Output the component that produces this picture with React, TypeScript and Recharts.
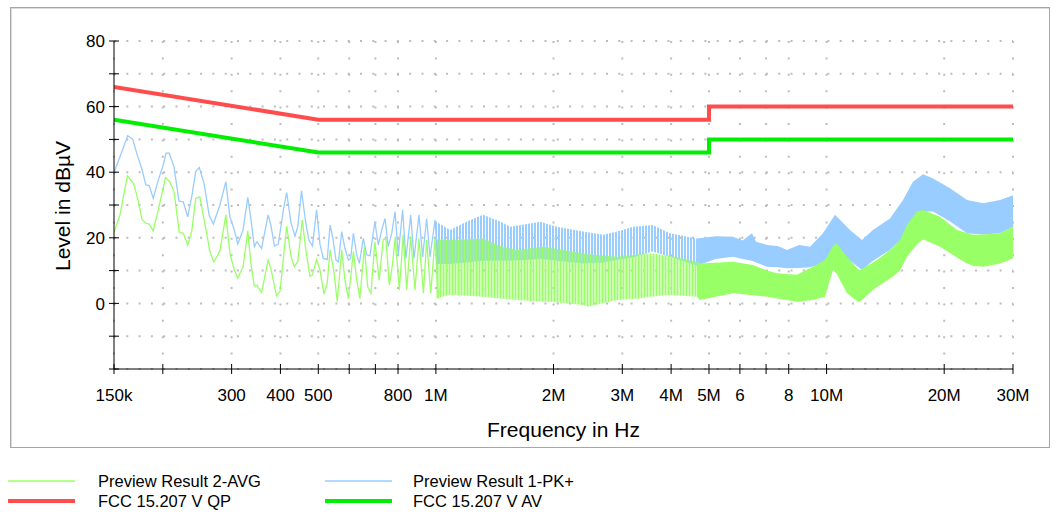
import React from 'react';
import { ComposedChart, Line, Area, XAxis, YAxis, CartesianGrid, Label } from 'recharts';

// ---------- axis ticks ----------
const xTicks = [150e3, 200e3, 300e3, 400e3, 500e3, 600e3, 700e3, 800e3, 1e6, 2e6, 3e6, 4e6, 5e6, 6e6, 7e6, 8e6, 10e6, 20e6, 30e6];
const xTickLabels: [number, string][] = [
  [150e3, '150k'], [300e3, '300'], [400e3, '400'], [500e3, '500'], [800e3, '800'], [1e6, '1M'],
  [2e6, '2M'], [3e6, '3M'], [4e6, '4M'], [5e6, '5M'], [6e6, '6'], [8e6, '8'], [10e6, '10M'], [20e6, '20M'], [30e6, '30M'],
];
const yTicks = [-20, -10, 0, 10, 20, 30, 40, 50, 60, 70, 80];
const yTickLabels = [0, 20, 40, 60, 80];

// ---------- limit lines (Hz, dBµV) ----------
const qpLimit: [number, number][] = [[150e3, 66], [500e3, 56], [5e6, 56], [5e6, 60], [30e6, 60]];
const avLimit: [number, number][] = [[150e3, 56], [500e3, 46], [5e6, 46], [5e6, 50], [30e6, 50]];

// ---------- low-frequency traces (kHz, dBµV) ----------
const pkTrace: [number, number][] = [
  [150, 40], [155.4, 44.7], [162.6, 51.1], [167.5, 50.1], [172, 45.2], [176.6, 41.2], [181, 36.1], [184.6, 35.9],
  [189, 32], [194.7, 37.6], [200.5, 42.2], [203.8, 45.8], [207.7, 45.8], [213.6, 41.7], [220, 31.2], [225.6, 31],
  [231.6, 26.4], [237.1, 32.5], [242.8, 40.2], [248, 41.4], [255, 36.6], [263, 26.7], [269.4, 24.2], [280, 30],
  [290, 37.1], [297, 26.4], [304.8, 22.4], [311, 18.1], [321, 22.4], [330, 32.3], [336, 25.9], [343, 17.3],
  [348, 18.8], [358, 16.8], [372, 27], [378, 23.9], [386, 17.5], [395, 18.1], [407, 28.5], [415, 33.8],
  [426, 24.4], [436, 20.5], [443, 23.4], [453, 34.3], [464, 24.9], [473, 19.3], [483, 17.5], [495, 28.5],
  [505, 18], [515, 13.7], [527, 13.4], [536, 23.9], [545, 19.8], [555, 13.2], [563, 12.7], [574, 21.9],
  [585, 16.8], [597, 13.2], [605, 13.7], [615, 21.4], [627, 14.8], [637, 12.2], [652, 19.8], [665, 14.8],
  [678, 14.5], [698, 24.9], [712, 17.8], [727, 22.4], [741, 25.9], [755, 17.3], [771, 21.4], [786, 28],
  [801, 14.8], [822, 28.5], [838, 13.7], [862, 27], [879, 13.7], [905, 27], [925, 14.2], [947, 25.9],
  [966, 14.2], [995, 25.4], [1014, 12.2],
];
const avgTrace: [number, number][] = [
  [150, 21.7], [155.4, 27], [162.3, 38.9], [168.3, 36.6], [172.6, 31.8], [176.9, 25.6], [181.5, 24.4], [184.6, 24.2],
  [189, 22.1], [194.7, 28.5], [203.2, 38.4], [208.3, 37.1], [213.6, 34.1], [220.4, 21.7], [225.6, 21.4], [231.6, 17.8],
  [237.1, 21.9], [242.8, 32], [248.7, 32.5], [255.7, 24.9], [264, 15.8], [270, 12.7], [275, 14.2], [280, 16],
  [290, 27], [297, 15.3], [304.8, 10.2], [311, 7.7], [321, 11.2], [330, 22.1], [336, 12.2], [343, 5.3],
  [348, 5.6], [358, 3.3], [372, 13.2], [378, 10.7], [391, 2.3], [399, 3.6], [415, 23.6], [426, 14.2],
  [434, 11.2], [443, 12.7], [455, 25.4], [464, 16.8], [476, 8.2], [483, 8.7], [495, 13.4], [505, 10.2],
  [517, 2.8], [527, 6.1], [536, 16.3], [549, 9.2], [559, 0.5], [574, 16.3], [585, 7.1], [597, 1.5],
  [615, 15.8], [627, 7.1], [639, 1.5], [656, 17.3], [669, 5.1], [682, 3.1], [698, 18.8], [716, 7.1],
  [733, 19.5], [745, 19.5], [760, 5.6], [775, 12.2], [787, 20.3], [806, 4.1], [825, 20.9], [842, 4.1],
  [862, 20.3], [884, 4.1], [905, 19.8], [929, 3.1], [947, 19.3], [970, 3.1], [995, 19.8], [1014, 1.5],
];

// ---------- high-frequency envelopes (MHz, low dBµV, high dBµV) ----------
const pkBand: [number, number, number][] = [
  [1.0, 12, 25], [1.087, 12, 22.4], [1.2, 12.5, 25], [1.32, 13, 27], [1.46, 13, 25], [1.55, 13, 23.4],
  [1.85, 13.5, 24.9], [2.04, 13, 23.4], [2.38, 12.2, 21.9], [2.68, 12.5, 20.9], [2.91, 13.2, 21.9],
  [3.2, 14, 23.4], [3.59, 15.8, 23.9], [3.97, 14.2, 21.4], [4.66, 11.5, 19.8], [5.2, 13.5, 20.5],
  [5.76, 14.2, 20.3], [6.1, 13.5, 19.2], [6.44, 13, 21.4], [6.6, 12.5, 18.8], [7.04, 11.2, 17.8],
  [7.5, 11, 17.5], [7.92, 10.7, 16.3], [8.5, 10.8, 17.8], [9.07, 11, 17.3], [9.79, 12, 21.4],
  [10.51, 16, 27], [11.48, 13, 22.4], [12.32, 10.2, 19.3], [13.14, 13, 22.4], [14.53, 16.3, 25.9],
  [15.69, 20, 31.5], [16.64, 25, 37.1], [17.66, 28, 39.4], [18.73, 28, 38.1], [20.7, 25, 35.1],
  [22.88, 21.4, 31.5], [25.14, 21, 30.5], [27.8, 21.4, 31.5], [30, 23.4, 33],
];
const avgBand: [number, number, number][] = [
  [1.0, 1.5, 19.5], [1.087, 2.6, 19.3], [1.32, 2, 19.8], [1.46, 1.5, 17.5], [1.61, 1.0, 16.3],
  [1.88, 0.5, 17.3], [1.96, 0.5, 17], [2.38, -0.5, 15.3], [2.45, -1.0, 15], [2.91, 1.0, 14.2],
  [3.33, 1.5, 15], [3.53, 2, 15.3], [3.97, 2.6, 14.5], [4.29, 2.3, 13.7], [4.66, 2.0, 12.7],
  [4.74, 1.0, 12.2], [5.76, 3.1, 12.7], [6.48, 2.5, 11.7], [7.04, 2.0, 10], [7.47, 1.5, 9.2],
  [8.4, 0.5, 8.7], [9.22, 1.0, 11.2], [9.91, 2.0, 13.2], [10.38, 10.2, 17.5], [10.63, 9, 18.3],
  [10.82, 7.1, 17], [11.28, 3.1, 14.2], [12.03, 0.5, 10.5], [12.18, 0.5, 10.2], [13.14, 4.1, 12.5],
  [13.46, 5, 13.2], [14.79, 8.2, 17], [15.42, 10, 19.3], [16.06, 14.2, 24], [17.04, 18, 28],
  [17.66, 19.5, 28.5], [18.08, 19, 28], [19.52, 17.3, 26.4], [21.57, 14, 22.4], [22.88, 12.2, 21.5],
  [23.7, 11.5, 20.9], [25.14, 11.2, 21], [27.8, 12.2, 21.4], [30, 13.7, 23.4],
];
const stripeEndMHz = 4.66;

const FONT = '"Liberation Sans", Arial, sans-serif';
const PK_COLOR = '#99ccff';
const AVG_COLOR = '#99ff66';
const QP_COLOR = '#ff4d4d';
const AV_COLOR = '#00ee00';

const toPtsHz = (a: [number, number][]) => a.map(([f, v]) => ({ f, v }));
const toPtsKHz = (a: [number, number][]) => a.map(([f, v]) => ({ f: f * 1000, v }));
const toBand = (a: [number, number, number][]) => a.map(([f, lo, hi]) => ({ f: f * 1e6, r: [lo, hi] }));

const pkBandStriped = toBand(pkBand.filter((d) => d[0] <= stripeEndMHz));
const pkBandSolid = toBand(pkBand.filter((d) => d[0] >= stripeEndMHz));
const avgBandStriped = toBand(avgBand.filter((d) => d[0] <= stripeEndMHz));
const avgBandSolid = toBand(avgBand.filter((d) => d[0] >= stripeEndMHz));

const xLabelMap = new Map<number, string>(xTickLabels);

const XTick = (props: any) => {
  const { x, y, payload } = props;
  const label = xLabelMap.get(payload.value);
  return (
    <g>
      <line x1={x} x2={x} y1={y - 5} y2={y + 5} stroke="#000" strokeWidth={1} />
      {label ? (
        <text x={x} y={y + 32} textAnchor="middle" fontSize={17} fontFamily={FONT} fill="#000">
          {label}
        </text>
      ) : null}
    </g>
  );
};

const YTick = (props: any) => {
  const { x, y, payload } = props;
  const show = yTickLabels.includes(payload.value);
  return (
    <g>
      <line x1={x - 5} x2={x + 5} y1={y} y2={y} stroke="#000" strokeWidth={1} />
      {show ? (
        <text x={x - 9} y={y} dy="0.36em" textAnchor="end" fontSize={17} fontFamily={FONT} fill="#000">
          {payload.value}
        </text>
      ) : null}
    </g>
  );
};

const legendItems = [
  { label: 'Preview Result 2-AVG', color: AVG_COLOR, width: 1.3, col: 0, row: 0 },
  { label: 'Preview Result 1-PK+', color: PK_COLOR, width: 1.3, col: 1, row: 0 },
  { label: 'FCC 15.207 V QP', color: QP_COLOR, width: 4, col: 0, row: 1 },
  { label: 'FCC 15.207 V AV', color: AV_COLOR, width: 4, col: 1, row: 1 },
];

export default function App() {
  return (
    <div style={{ position: 'absolute', left: 0, top: 0, width: 1054, height: 513, background: '#fff', overflow: 'hidden' }}>
      <div
        style={{
          position: 'absolute', left: 10, top: 7, width: 1040, height: 441, boxSizing: 'border-box',
          border: '1px solid #a6a6a6', boxShadow: 'inset 1px 1px 0 #dcdcdc',
        }}
      />
      <div style={{ position: 'absolute', left: 0, top: 0 }}>
        <ComposedChart width={1054} height={450} margin={{ top: 41, right: 41, bottom: 41, left: 54 }}>
          <defs>
            <pattern id="pkStripes" patternUnits="userSpaceOnUse" x="0" y="0" width="3" height="8">
              <rect x="0" y="0" width="2" height="8" fill={PK_COLOR} />
            </pattern>
            <pattern id="avgStripes" patternUnits="userSpaceOnUse" x="1.5" y="0" width="3" height="8">
              <rect x="0" y="0" width="2" height="8" fill={AVG_COLOR} />
            </pattern>
          </defs>
          <CartesianGrid horizontal vertical={false} stroke="#bdbdbd" strokeWidth={2} strokeDasharray="2 10.3" />
          <CartesianGrid horizontal={false} vertical stroke="#bdbdbd" strokeWidth={2} strokeDasharray="2 14.4" />
          <XAxis
            type="number"
            dataKey="f"
            scale="log"
            domain={[150e3, 30e6]}
            allowDataOverflow
            ticks={xTicks}
            interval={0}
            tickSize={0}
            tickMargin={0}
            tick={<XTick />}
            height={40}
            axisLine={{ stroke: '#000', strokeWidth: 1 }}
            tickLine={false}
          >
            <Label
              content={(p: any) => {
                const vb = p.viewBox;
                return (
                  <text x={vb.x + vb.width / 2} y={vb.y + 68} textAnchor="middle" fontSize={21} fontFamily={FONT} fill="#000">
                    Frequency in Hz
                  </text>
                );
              }}
            />
          </XAxis>
          <YAxis
            type="number"
            domain={[-20, 80]}
            ticks={yTicks}
            interval={0}
            width={60}
            tickSize={0}
            tickMargin={0}
            tick={<YTick />}
            axisLine={{ stroke: '#000', strokeWidth: 1 }}
            tickLine={false}
            allowDataOverflow
          >
            <Label
              content={(p: any) => {
                const vb = p.viewBox;
                const cx = vb.x + 16;
                const cy = vb.y + vb.height / 2 + 1;
                return (
                  <text x={cx} y={cy} textAnchor="middle" fontSize={21} fontFamily={FONT} fill="#000" transform={`rotate(-90, ${cx}, ${cy})`}>
                    Level in dBµV
                  </text>
                );
              }}
            />
          </YAxis>

          <Area data={pkBandStriped} dataKey="r" type="linear" stroke="none" fill="url(#pkStripes)" fillOpacity={1} isAnimationActive={false} dot={false} activeDot={false} />
          <Area data={pkBandSolid} dataKey="r" type="linear" stroke="none" fill={PK_COLOR} fillOpacity={1} isAnimationActive={false} dot={false} activeDot={false} />
          <Line data={toPtsKHz(pkTrace)} dataKey="v" type="linear" stroke={PK_COLOR} strokeWidth={1.3} dot={false} activeDot={false} isAnimationActive={false} />

          <Area data={avgBandStriped} dataKey="r" type="linear" stroke="none" fill="url(#avgStripes)" fillOpacity={1} isAnimationActive={false} dot={false} activeDot={false} />
          <Area data={avgBandSolid} dataKey="r" type="linear" stroke="none" fill={AVG_COLOR} fillOpacity={1} isAnimationActive={false} dot={false} activeDot={false} />
          <Line data={toPtsKHz(avgTrace)} dataKey="v" type="linear" stroke={AVG_COLOR} strokeWidth={1.3} dot={false} activeDot={false} isAnimationActive={false} />

          <Line data={toPtsHz(qpLimit)} dataKey="v" type="linear" stroke={QP_COLOR} strokeWidth={4} dot={false} activeDot={false} isAnimationActive={false} />
          <Line data={toPtsHz(avLimit)} dataKey="v" type="linear" stroke={AV_COLOR} strokeWidth={4} dot={false} activeDot={false} isAnimationActive={false} />
        </ComposedChart>
      </div>
      <svg style={{ position: 'absolute', left: 0, top: 460 }} width={1054} height={53}>
        {legendItems.map((it) => {
          const lx = it.col === 0 ? 8 : 325;
          const tx = it.col === 0 ? 98 : 413;
          const cy = it.row === 0 ? 21 : 41;
          return (
            <g key={it.label}>
              <line x1={lx} x2={lx + 67} y1={cy} y2={cy} stroke={it.color} strokeWidth={it.width} />
              <text x={tx} y={cy + 6} fontSize={16.5} fontFamily={FONT} fill="#000">
                {it.label}
              </text>
            </g>
          );
        })}
      </svg>
    </div>
  );
}
